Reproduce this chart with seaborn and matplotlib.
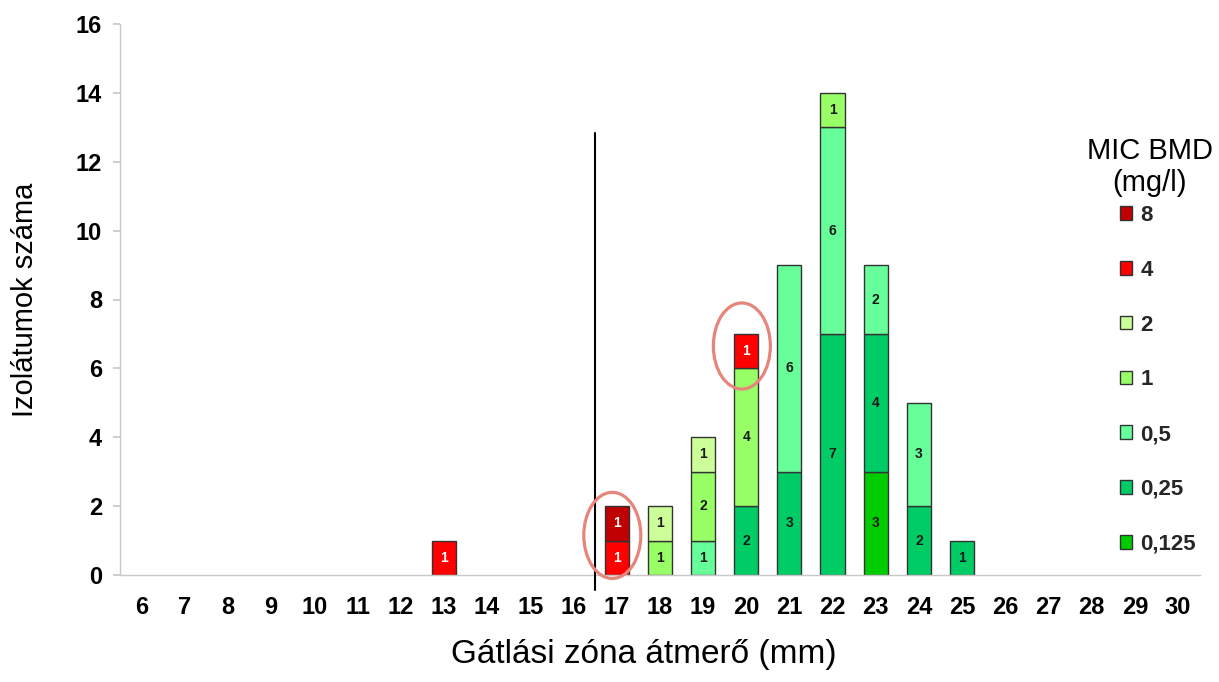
import matplotlib
matplotlib.use("Agg")
import numpy as np
import matplotlib.pyplot as plt
import seaborn as sns
from matplotlib.patches import Patch, Ellipse

# Inhibition zone diameters (mm) on the x axis
zone_mm = list(range(6, 31))

# MIC BMD categories (mg/l), legend order (top of stack first)
mic_labels = ["8", "4", "2", "1", "0,5", "0,25", "0,125"]
mic_colors = ["#C00000", "#FF0000", "#CCFF99", "#99FF66", "#66FF99", "#00CC66", "#00CC00"]

# Number of isolates per zone diameter (6 ... 30 mm) for each MIC value
n_mic_8     = [0, 0, 0, 0, 0, 0, 0, 0, 0, 0, 0, 1, 0, 0, 0, 0, 0, 0, 0, 0, 0, 0, 0, 0, 0]
n_mic_4     = [0, 0, 0, 0, 0, 0, 0, 1, 0, 0, 0, 1, 0, 0, 1, 0, 0, 0, 0, 0, 0, 0, 0, 0, 0]
n_mic_2     = [0, 0, 0, 0, 0, 0, 0, 0, 0, 0, 0, 0, 1, 1, 0, 0, 0, 0, 0, 0, 0, 0, 0, 0, 0]
n_mic_1     = [0, 0, 0, 0, 0, 0, 0, 0, 0, 0, 0, 0, 1, 2, 4, 0, 1, 0, 0, 0, 0, 0, 0, 0, 0]
n_mic_0_5   = [0, 0, 0, 0, 0, 0, 0, 0, 0, 0, 0, 0, 0, 1, 0, 6, 6, 2, 3, 0, 0, 0, 0, 0, 0]
n_mic_0_25  = [0, 0, 0, 0, 0, 0, 0, 0, 0, 0, 0, 0, 0, 0, 2, 3, 7, 4, 2, 1, 0, 0, 0, 0, 0]
n_mic_0_125 = [0, 0, 0, 0, 0, 0, 0, 0, 0, 0, 0, 0, 0, 0, 0, 0, 0, 3, 0, 0, 0, 0, 0, 0, 0]

mic_counts = [n_mic_8, n_mic_4, n_mic_2, n_mic_1, n_mic_0_5, n_mic_0_25, n_mic_0_125]

# Breakpoint drawn between 16 and 17 mm, and the zones circled as outliers
breakpoint_mm = 16.5
breakpoint_top = 12.83
highlight_mm = [17, 20]

y_ticks = [0, 2, 4, 6, 8, 10, 12, 14, 16]

sns.set_theme(style="white")
plt.rcParams["font.family"] = ["Liberation Sans", "DejaVu Sans"]

fig = plt.figure(figsize=(12.19, 6.82), dpi=100)
ax = fig.add_axes([120 / 1219, 1 - 575 / 682, 1079.6 / 1219, 551 / 682])

order = [str(z) for z in zone_mm]
edge = "#333333"
bottom = np.zeros(len(zone_mm))

# Stack from the lowest MIC upwards
for label, color, counts in zip(mic_labels[::-1], mic_colors[::-1], mic_counts[::-1]):
    counts = np.asarray(counts, dtype=float)
    keep = counts > 0
    xs = [order[i] for i in np.where(keep)[0]]
    sns.barplot(x=xs, y=counts[keep], order=order, color=color, saturation=1,
                width=0.56, edgecolor=edge, linewidth=1.0,
                bottom=bottom[keep], errorbar=None, ax=ax)
    txt_color = "white" if label in ("8", "4") else "#1a1a1a"
    for i in np.where(keep)[0]:
        ax.text(i, bottom[i] + counts[i] / 2, f"{int(counts[i])}", ha="center", va="center",
                fontsize=10, fontweight="bold", color=txt_color)
    bottom = bottom + counts

# Circles around the resistant isolates
red_counts = np.asarray(n_mic_8) + np.asarray(n_mic_4)
for mm in highlight_mm:
    i = zone_mm.index(mm)
    red_bottom = bottom[i] - red_counts[i]
    cy = red_bottom + red_counts[i] / 2 + 0.15
    ax.add_patch(Ellipse((i - 0.1, cy), 1.32, 2.5, fill=False, edgecolor="#E5857B",
                         linewidth=2.3, zorder=5, clip_on=False))

# Breakpoint line
bx = zone_mm.index(17) - (17 - breakpoint_mm)
ax.plot([bx, bx], [-0.45, breakpoint_top], color="black", linewidth=1.5,
        clip_on=False, zorder=4)

ax.set_xlim(-0.5, len(zone_mm) - 0.5)
ax.set_ylim(0, 16)
ax.set_yticks(y_ticks)
ax.set_yticklabels([str(t) for t in y_ticks])

for side in ("top", "right"):
    ax.spines[side].set_visible(False)
for side in ("left", "bottom"):
    ax.spines[side].set_color("#C8C8C8")
    ax.spines[side].set_linewidth(1.0)

ax.set_xticks(np.arange(len(zone_mm)) - 0.5, minor=True)
ax.tick_params(axis="x", which="major", length=0, pad=15, labelsize=17)
ax.tick_params(axis="x", which="minor", length=6, color="#C8C8C8", direction="out")
ax.tick_params(axis="y", length=5, color="#C8C8C8", direction="out", pad=8, labelsize=17, left=True)
for t in ax.get_xticklabels() + ax.get_yticklabels():
    t.set_fontweight("bold")
    t.set_color("black")

ax.set_xlabel("Gátlási zóna átmerő (mm)", fontsize=24, color="black")
ax.set_ylabel("Izolátumok száma", fontsize=21, color="black")
ax.xaxis.set_label_coords((644 - 120) / 1079.6, -(655 - 575) / 551)
ax.yaxis.set_label_coords(-(120 - 25) / 1079.6, 0.5)
ax.xaxis.label.set_va("center")
ax.yaxis.label.set_va("center")

# Legend
handles = [Patch(facecolor=c, edgecolor=edge, linewidth=1.0) for c in mic_colors]
leg = ax.legend(handles, mic_labels, loc="upper left",
                bbox_to_anchor=((1120 - 120) / 1079.6, (575 - 205) / 551),
                frameon=False, borderpad=0, borderaxespad=0,
                handlelength=0.56, handleheight=0.56, handletextpad=0.35,
                labelspacing=1.52, prop={"weight": "bold", "size": 16})
ax.text((1150 - 120) / 1079.6, (575 - 167) / 551, "MIC BMD\n(mg/l)", transform=ax.transAxes,
        ha="center", va="center", fontsize=21, color="black", linespacing=1.2)

fig.savefig("out.png", dpi=100, facecolor="white")
